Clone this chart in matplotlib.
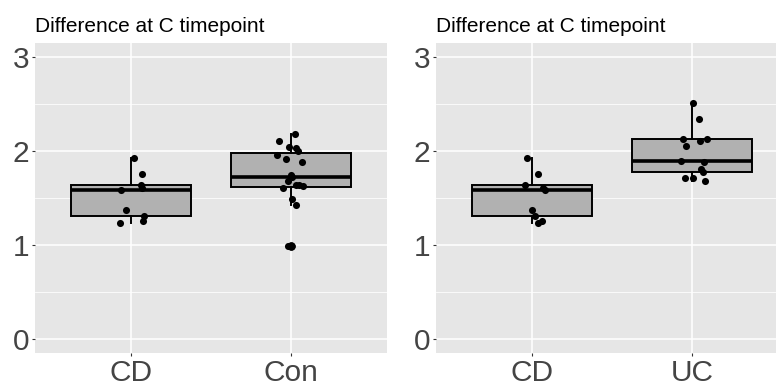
import matplotlib
matplotlib.use("Agg")
from matplotlib import pyplot as plt
from matplotlib.ticker import MultipleLocator

plt.rcParams['font.family'] = ['Liberation Sans', 'DejaVu Sans']

# values
cd_vals = [1.93, 1.76, 1.64, 1.61, 1.58, 1.37, 1.31, 1.25, 1.23]
con_vals = [2.185, 2.11, 2.04, 2.03, 2.00, 1.96, 1.91, 1.88, 1.74, 1.72,
            1.68, 1.64, 1.64, 1.63, 1.61, 1.49, 1.43, 0.99, 0.99]
uc_vals = [2.516, 2.337, 2.129, 2.11, 2.132, 2.058, 1.889, 1.881, 1.81,
           1.78, 1.709, 1.716, 1.68]

# jitter offsets (as seen in the picture)
cd_jit_left = [0.02, 0.066, 0.061, 0.066, -0.061, -0.034, 0.083, 0.076, -0.066]
con_jit = [0.022, -0.074, -0.011, 0.033, 0.043, -0.086, -0.033, 0.066, 0.001,
           0.009, -0.016, 0.03, 0.053, 0.076, -0.049, 0.009, 0.034, -0.02, 0.003]
cd_jit_right = [-0.031, 0.04, -0.042, 0.07, 0.081, 0.002, 0.02, 0.064, 0.037]
uc_jit = [0.004, 0.046, -0.056, 0.048, 0.092, -0.039, -0.07, 0.073, 0.058,
          0.067, -0.044, 0.006, 0.08]

title = "Difference at C timepoint"
W, H = 776, 386
fig = plt.figure(figsize=(W / 100, H / 100), dpi=100)


def panel(rect, groups, labels, jitters):
    ax = fig.add_axes(rect)
    ax.set_facecolor("#E6E6E6")
    for s in ax.spines.values():
        s.set_visible(False)
    pos = list(range(1, len(groups) + 1))
    bp = ax.boxplot(groups, positions=pos, widths=0.75, patch_artist=True,
                    whis=1.5, showcaps=False, zorder=3,
                    boxprops=dict(facecolor="#B1B1B1", edgecolor="black", linewidth=1.4),
                    medianprops=dict(color="black", linewidth=2.6),
                    whiskerprops=dict(color="black", linewidth=1.4),
                    flierprops=dict(marker="o", markerfacecolor="black",
                                    markeredgecolor="black", markersize=5))
    for p, vals, jit in zip(pos, groups, jitters):
        ax.scatter([p + j for j in jit], vals, s=26, color="black", zorder=4,
                   linewidths=0)
    ax.set_xlim(0.4, len(groups) + 0.6)
    ax.set_ylim(-0.15, 3.15)
    ax.set_xticks(pos)
    ax.set_xticklabels(labels)
    ax.yaxis.set_major_locator(MultipleLocator(1))
    ax.yaxis.set_minor_locator(MultipleLocator(0.5))
    ax.grid(which="major", color="white", linewidth=1.1, zorder=0)
    ax.grid(which="minor", axis="y", color="white", linewidth=0.55, zorder=0)
    ax.set_axisbelow(True)
    ax.tick_params(which="major", length=2.5, width=0.8, color="#333333",
                   labelcolor="#444444", labelsize=21.5, pad=1.5)
    ax.tick_params(which="minor", length=0)
    ax.set_title(title, loc="left", fontsize=15, color="black", pad=8)
    return ax


bottom = 1 - 353 / H
height = (353 - 43) / H
panel([35 / W, bottom, 352 / W, height], [cd_vals, con_vals], ["CD", "Con"],
      [cd_jit_left, con_jit])
panel([436 / W, bottom, 352 / W, height], [cd_vals, uc_vals], ["CD", "UC"],
      [cd_jit_right, uc_jit])

fig.savefig("out.png", dpi=100)
